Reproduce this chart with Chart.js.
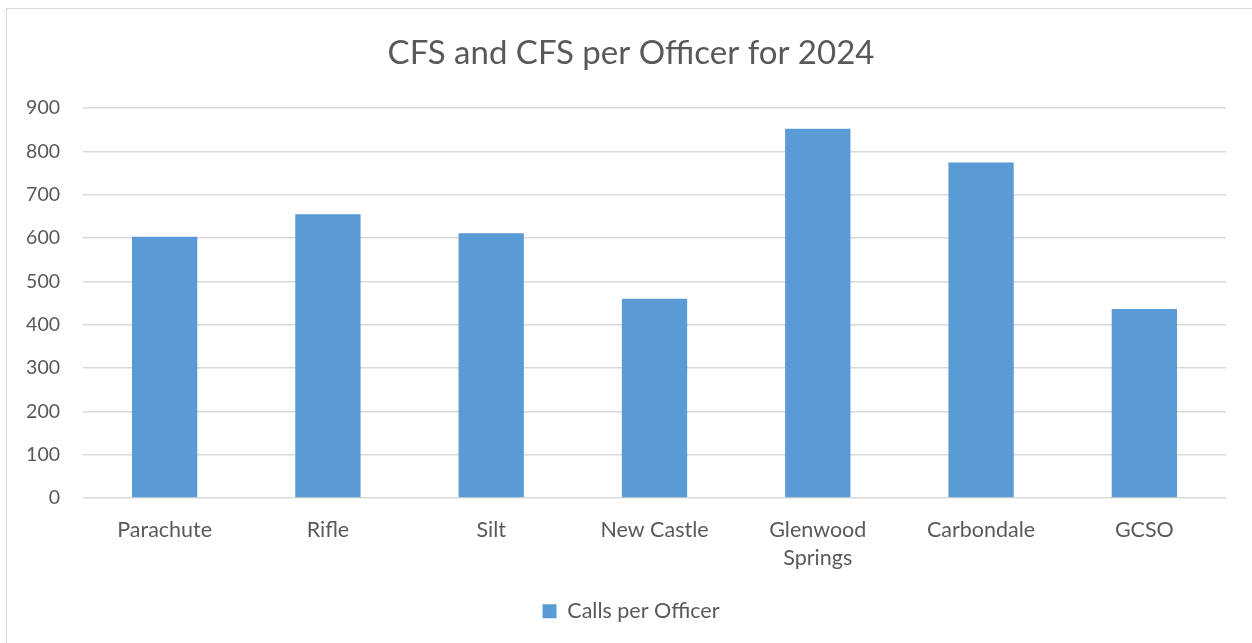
<!DOCTYPE html>
<html>
<head>
<meta charset="utf-8">
<script src="https://cdn.jsdelivr.net/npm/chart.js@4/dist/chart.umd.min.js"></script>
<style>
  html, body { margin: 0; padding: 0; background: #ffffff; }
  #frame {
    position: absolute; left: 6px; top: 8px; width: 1300px; height: 700px;
    border: 1.5px solid #d9d9d9; box-sizing: border-box;
  }
  #wrap { position: absolute; left: 0; top: 0; width: 1252px; height: 643px; }
</style>
</head>
<body>
<div id="frame"></div>
<div id="wrap"><canvas id="chart" width="1252" height="643"></canvas></div>
<script>
// Departments and their calls for service per officer, 2024
const categories = ["Parachute", "Rifle", "Silt", "New Castle", ["Glenwood", "Springs"], "Carbondale", "GCSO"];
const callsPerOfficer = [603, 655, 611, 460, 852, 774, 436];
const seriesName = "Calls per Officer";
const chartTitle = "CFS and CFS per Officer for 2024";
const yTicks = { min: 0, max: 900, step: 100 };

const textColor = "#595959";
const barColor = "#5B9BD5";
const gridColor = "#d9d9d9";
const fontFamily = "Lato, 'Open Sans', sans-serif";

new Chart(document.getElementById("chart"), {
  type: "bar",
  data: {
    labels: categories,
    datasets: [{
      label: seriesName,
      data: callsPerOfficer,
      yAxisID: "y",
      backgroundColor: barColor,
      borderWidth: 0,
      barPercentage: 0.4,
      categoryPercentage: 1.0
    }]
  },
  options: {
    responsive: false,
    animation: false,
    devicePixelRatio: 1,
    layout: { padding: { left: 10, right: 0, top: 0, bottom: 11 } },
    plugins: {
      title: {
        display: true,
        text: chartTitle,
        color: textColor,
        font: { family: fontFamily, size: 33, weight: "normal", lineHeight: 1.2 },
        padding: { top: 34, bottom: 34.4 }
      },
      legend: {
        display: true,
        position: "bottom",
        labels: {
          color: textColor,
          font: { family: fontFamily, size: 21.5 },
          boxWidth: 14,
          boxHeight: 14,
          padding: 10
        }
      },
      tooltip: { enabled: false }
    },
    scales: {
      x: {
        grid: { display: false, drawTicks: false },
        border: { display: false },
        ticks: {
          color: textColor,
          font: { family: fontFamily, size: 21.5, lineHeight: 1.3 },
          padding: 18.5,
          maxRotation: 0,
          autoSkip: false
        },
        afterFit: (scale) => { scale.height = 92.5; }
      },
      y: {
        position: "left",
        min: yTicks.min,
        max: yTicks.max,
        grid: { color: gridColor, lineWidth: 1.5, drawTicks: false },
        border: { display: false },
        ticks: {
          stepSize: yTicks.step,
          color: textColor,
          font: { family: fontFamily, size: 19.5 },
          padding: 23
        },
        afterFit: (scale) => { scale.width = 73; }
      },
      // empty right-hand margin strip, keeps the plot inset from the right edge
      yMargin: {
        type: "linear",
        position: "right",
        min: yTicks.min,
        max: yTicks.max,
        grid: { display: false, drawTicks: false },
        border: { display: false },
        ticks: { display: false },
        afterFit: (scale) => { scale.width = 26; }
      }
    }
  }
});
</script>
</body>
</html>
